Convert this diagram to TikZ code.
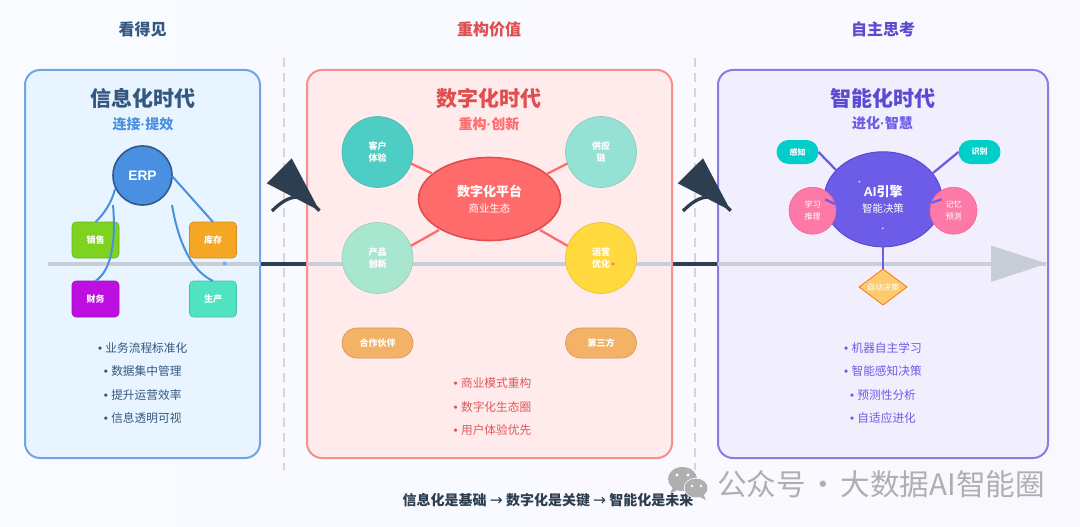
\documentclass[tikz,border=0pt]{standalone}
\usepackage{fontspec}
\setmainfont{Noto Sans CJK SC}
\newfontfamily\lat{Liberation Sans}
\newfontfamily\arrowf{DejaVu Sans}
\newcommand\bul{{\lat •\ }}
\newcommand\mdot{{\lat ·}}
\usetikzlibrary{shapes.geometric}
\definecolor{bgl}{HTML}{F8FBFF}\definecolor{bgm}{HTML}{FEF8F9}\definecolor{bgr}{HTML}{FAF8FF}
\definecolor{dark}{HTML}{2C3E50}\definecolor{axisg}{HTML}{C9CDD8}\definecolor{dashg}{HTML}{D5D5DA}
\definecolor{blueS}{HTML}{6FA5E6}\definecolor{blueF}{HTML}{E8F4FF}\definecolor{blueM}{HTML}{4A90E2}\definecolor{blueD}{HTML}{2E5A8E}\definecolor{blueT}{HTML}{34587F}
\definecolor{redS}{HTML}{F88E8E}\definecolor{redF}{HTML}{FFEBEC}\definecolor{redM}{HTML}{FF6B6B}\definecolor{redD}{HTML}{E04F4F}\definecolor{redB}{HTML}{E2575A}
\definecolor{purS}{HTML}{897EE0}\definecolor{purF}{HTML}{F1EFFE}\definecolor{purM}{HTML}{6C5CE7}\definecolor{purD}{HTML}{5A4BD1}
\definecolor{teal1}{HTML}{4ECDC4}\definecolor{teal2}{HTML}{95E1D3}\definecolor{teal3}{HTML}{A8E6CF}\definecolor{yel}{HTML}{FFD93D}\definecolor{ora}{HTML}{F4B266}
\definecolor{grn}{HTML}{7ED321}\definecolor{orb}{HTML}{F5A623}\definecolor{mag}{HTML}{BD10E0}\definecolor{mnt}{HTML}{50E3C2}
\definecolor{cyan1}{HTML}{00CEC9}\definecolor{pink1}{HTML}{FD79A8}\definecolor{gold}{HTML}{FDCB6E}\definecolor{wm}{HTML}{AFAFAF}
\tikzset{
 every node/.style={inner sep=0pt,outer sep=0pt,align=center},
 panel/.style={rounded corners=15pt,line width=2pt},
 head/.style={font=\fontsize{16}{16}\selectfont\bfseries},
 era/.style={font=\fontsize{21}{21}\selectfont\bfseries},
 sub/.style={font=\fontsize{14}{14}\selectfont\bfseries},
 listitem/.style={font=\fontsize{11.7}{23.3}\selectfont},
 small/.style={text=white,font=\fontsize{9}{12}\selectfont\bfseries},
 tiny/.style={text=white,font=\fontsize{8}{12}\selectfont},
 tinyb/.style={text=white,font=\fontsize{8}{12}\selectfont\bfseries},
 box/.style={rounded corners=4pt,minimum width=47pt,minimum height=36pt,line width=.6pt,small},
 disc/.style={circle,minimum size=71pt,line width=.6pt,small},
 pill/.style={rounded corners=15pt,minimum width=71pt,minimum height=30pt,fill=ora,draw=ora!85!black,line width=.6pt,small},
 lnk/.style={line width=2pt},
 rlnk/.style={line width=2.3pt,redM},
 plnk/.style={line width=2.3pt,purM},
 bigarc/.style={dark,line width=3.3pt},
}
\begin{document}
\begin{tikzpicture}[x=1pt,y=-1pt]
\useasboundingbox (0,0) rectangle (1080,527);
\shade[left color=bgl,middle color=bgm,right color=bgr] (0,0) rectangle (1080,527);
\draw[line width=4pt,dark] (261,263.5) -- (1040,263.5);
\draw[dashg,line width=2pt,dash pattern=on 9pt off 6pt] (283.5,58) -- (283.5,470);
\draw[dashg,line width=2pt,dash pattern=on 9pt off 6pt] (695,58) -- (695,470);
% panels
\node[panel,draw=blueS,fill=blueF,minimum width=235pt,minimum height=388pt] (p1) at (142.5,264) {};
\node[panel,draw=redS,fill=redF,minimum width=365pt,minimum height=388pt] (p2) at (489.5,264) {};
\node[panel,draw=purS,fill=purF,minimum width=330pt,minimum height=388pt] (p3) at (883,264) {};
% axis
\draw[axisg,line width=4pt] (48,263.5) -- (260,263.5) (307,263.5) -- (672,263.5) (718,263.5) -- (1046,263.5);
\fill[axisg] (991,245.5) -- (1047,263.5) -- (991,282) -- cycle;
\fill[blueM!75!white] (224.7,263.5) circle (2pt);
% big arrows
\coordinate (a1s) at (272,211);
\coordinate (a1t) at (319.5,210.7);
\coordinate (a2s) at (683,211);
\coordinate (a2t) at (730.7,210.7);
\draw[bigarc] (a1s) .. controls (281,202) and (289,197) .. (298,197) .. controls (305,197) and (312,203) .. (a1t);
\fill[dark] (a1t) -- (291.7,158.3) -- (266.7,183.3) -- cycle;
\draw[bigarc] (a2s) .. controls (692,202) and (700,197) .. (709,197) .. controls (716,197) and (723,203) .. (a2t);
\fill[dark] (a2t) -- (703,158.3) -- (677.7,183.3) -- cycle;
% headings
\node[head,text=blueT] (h1) at (142.5,29) {看得见};
\node[head,text=redD] (h2) at (489,29) {重构价值};
\node[head,text=purD] (h3) at (883,29) {自主思考};
\node[era,text=blueT] (t1) at (142.5,98) {信息化时代};
\node[sub,text=blueM] (s1) at (143,124) {连接\mdot 提效};
\node[era,text=redD] (t2) at (489,98) {数字化时代};
\node[sub,text=redM] (s2) at (489,124) {重构\mdot 创新};
\node[era,text=purD] (t3) at (882.5,98) {智能化时代};
\node[sub,text=purM] (s3) at (882.5,123) {进化\mdot 智慧};
% left
\node[box,fill=grn,draw=grn!85!black] (b1) at (95.5,240) {销售};
\node[box,fill=orb,draw=orb!85!black] (b2) at (213,240) {库存};
\node[box,fill=mag,draw=mag!85!black] (b3) at (95.5,299) {财务};
\node[box,fill=mnt,draw=mnt!85!black] (b4) at (213,299) {生产};
\node[circle,minimum size=59pt,fill=blueM,draw=blueD,line width=1.6pt,text=white,font=\fontsize{13.8}{15}\selectfont\lat\bfseries] (erp) at (142.5,175.5) {\raisebox{-3.5pt}{ERP}};
\draw[blueM,lnk] (115,189) .. controls (112,202) and (104,214) .. (b1.north);
\draw[blueM,lnk] (172,176) -- (b2.north);
\draw[blueM,lnk] (113,205) .. controls (116,240) and (112,270) .. (b3.north);
\draw[blueM,lnk] (172,205) .. controls (178,240) and (190,270) .. (b4.north);
\node[listitem,text=blueT] (l1) at (142.7,348) {\bul 业务流程标准化};
\node[listitem,text=blueT] (l2) at (142.7,371.5) {\bul 数据集中管理};
\node[listitem,text=blueT] (l3) at (142.7,395) {\bul 提升运营效率};
\node[listitem,text=blueT] (l4) at (142.7,418) {\bul 信息透明可视};
% middle
\node[ellipse,minimum width=142pt,minimum height=83pt,fill=redM,draw=redD,line width=1.6pt,text=white] (pf) at (489.5,199) {{\fontsize{13}{18}\selectfont\bfseries 数字化平台}\\[4pt]{\fontsize{10.4}{14}\selectfont 商业生态}};
\node[disc,fill=teal1,draw=teal1!90!black] (c1) at (377.5,152) {客户\\体验};
\node[disc,fill=teal2,draw=teal2!90!black] (c2) at (601,152) {供应\\链};
\node[disc,fill=teal3,draw=teal3!90!black] (c3) at (377.5,258) {产品\\创新};
\node[disc,fill=yel,draw=yel!90!black] (c4) at (601,258) {运营\\优化};
\coordinate (pf1) at (431.7,173.3);
\coordinate (pf2) at (546.7,174);
\coordinate (pf3) at (439,230);
\coordinate (pf4) at (540,230);
\draw[rlnk] (c1.-19) -- (pf1);
\draw[rlnk] (c2.199) -- (pf2);
\draw[rlnk] (c3.20) -- (pf3);
\draw[rlnk] (c4.160) -- (pf4);
\fill[redM] (613,264) circle (1.7pt);
\node[pill] (x1) at (377.5,343) {合作伙伴};
\node[pill] (x2) at (601,343) {第三方};
\node[listitem,text=redB] (m1) at (492.5,383.5) {\bul 商业模式重构};
\node[listitem,text=redB] (m2) at (492.5,407) {\bul 数字化生态圈};
\node[listitem,text=redB] (m3) at (492.5,430) {\bul 用户体验优先};
% right
\coordinate (ai1) at (836,170);
\coordinate (ai2) at (933,173);
\node[rounded corners=12pt,minimum width=42pt,minimum height=24pt,fill=cyan1,tinyb] (k1) at (797.5,152) {感知};
\node[rounded corners=12pt,minimum width=42pt,minimum height=24pt,fill=cyan1,tinyb] (k2) at (979.5,152) {识别};
\draw[plnk] (k1.east) -- (ai1);
\draw[plnk] (k2.west) -- (ai2);
\node[ellipse,minimum width=118pt,minimum height=95pt,fill=purM,draw=purD,line width=1pt,text=white] (ai) at (883,199.3) {{\fontsize{13}{18}\selectfont\bfseries{\lat\bfseries AI}引擎}\\[4pt]{\fontsize{10.4}{14}\selectfont 智能决策}};
\node[circle,minimum size=47pt,fill=pink1,draw=pink1!80!red,line width=.6pt,tiny] (k3) at (812.5,210.7) {学习\\推理};
\node[circle,minimum size=47pt,fill=pink1,draw=pink1!80!red,line width=.6pt,tiny] (k4) at (953.5,210.7) {记忆\\预测};
\node[diamond,aspect=1.33,minimum width=48pt,minimum height=36pt,fill=gold,draw=orange!85!red,line width=.7pt,label={[tiny]center:自动决策}] (k5) at (883,287) {};
\draw[plnk] (ai.south) -- (k5.north);
\coordinate (st1) at (825,199.3);
\coordinate (st2) at (835,204);
\coordinate (st3) at (931.7,202.7);
\coordinate (st4) at (941.7,199.3);
\draw[plnk] (st1) -- (st2);
\draw[plnk] (st3) -- (st4);
\fill[white!60!purM] (859.3,181.7) circle (1.2pt) (882.7,228.3) circle (1.2pt);
\node[listitem,text=purM] (r1) at (883,348) {\bul 机器自主学习};
\node[listitem,text=purM] (r2) at (883,371.5) {\bul 智能感知决策};
\node[listitem,text=purM] (r3) at (883,395) {\bul 预测性分析};
\node[listitem,text=purM] (r4) at (883,418) {\bul 自适应进化};
% footer
\node[text=dark,font=\fontsize{14}{14}\selectfont\bfseries] (foot) at (548,500) {信息化是基础 {\arrowf\mdseries\fontsize{15.5}{14}\selectfont →} 数字化是关键 {\arrowf\mdseries\fontsize{15.5}{14}\selectfont →} 智能化是未来};
% watermark
\node[text=wm,font=\fontsize{29.6}{30}\selectfont,anchor=west] (wmk) at (717,484) {公众号\makebox[35pt]{·}大数据AI智能圈};
\fill[wm] (682.5,479) ellipse (14.5pt and 12pt);
\fill[wm] (673,487) -- (670,494) -- (679,489) -- cycle;
\fill[white] (696,488) ellipse (12.2pt and 10.2pt);
\fill[wm] (696,488) ellipse (11.5pt and 9.5pt);
\fill[wm] (703,494) -- (706,500) -- (698,496) -- cycle;
\fill[white] (677,475) circle (1.7pt) (688,475) circle (1.7pt) (692,486) circle (1.3pt) (701,486) circle (1.3pt);
\end{tikzpicture}
\end{document}
